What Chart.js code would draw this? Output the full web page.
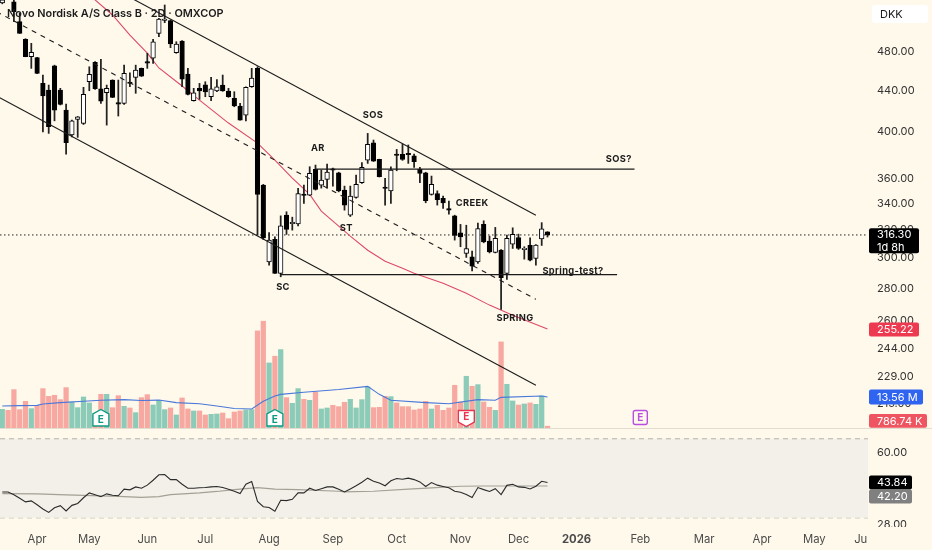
<!DOCTYPE html>
<html><head><meta charset="utf-8">
<style>
html,body{margin:0;padding:0;background:#fff9ec;overflow:hidden}
#a,#b{position:absolute;left:0}
#wa{position:absolute;left:0;top:0;width:932px;height:430px}
#wb{position:absolute;left:0;top:430px;width:932px;height:120px}
</style>
<script src="https://cdn.jsdelivr.net/npm/chart.js@4"></script>
</head><body>
<div id="wa"><canvas id="a"></canvas></div>
<div id="wb"><canvas id="b"></canvas></div>
<script>
const opens=[537,556,538.6,514.6,494.3,475,474,447,440.3,465.4,
440.3,420.6,397.3,411.8,408,448.7,469,441.6,437.6,450.4,
427.4,427,447.9,453.2,462.6,469.2,473.4,501.1,516,515.8,
479.4,492.4,456.6,429.6,442,445.6,433.6,439.3,445.3,439.3,
432,424.5,415.8,443.6,462.6,354.4,297.5,313.1,289.7,330.9,
324.5,324.3,346.9,346.4,367.4,354.4,359.1,367,364.5,350.4,
330.9,344.5,356.3,375.2,390.4,375.8,352.5,349.8,379.8,380.1,
380.4,378.9,367.4,364.5,347,347.6,343.8,336,330.4,317.9,
303.2,300.9,297.5,324,311.9,303.9,305.5,289.7,309.8,314.5,
305.9,308.9,299.8,313.5,318.5];
const highs=[552,560,545,524.5,495,489.8,474.5,455.6,445.3,466,
442,426.4,411,414.5,443,464.3,469.7,472.2,445.3,450.7,
450.4,466.1,458,466,463,478.8,494.3,518.6,534.6,516.6,
491.6,492.8,462.6,442,447,448.7,453.2,451,455.6,442,
438.6,427,443.5,462.6,464.3,355,318.1,315,330.4,333.5,
329.4,351.8,354.4,369.6,371,366.8,371.8,368.5,365,353.6,
353.6,362.6,373,398.8,392.8,376,359.9,369.6,384.5,389.2,
388.4,380.4,369,365,361.8,349.8,345.6,341.7,330.9,324,
323.4,304.8,324.9,326.7,315.5,321.8,306,316.2,321.5,316.9,
307.9,314.3,309.5,325.3,318.7];
const lows=[536,547,514.6,501,475,462.6,457,400.2,398.8,410.4,
425.5,380.4,395.7,395.2,407,439.6,441,427,406.4,432.7,
414.9,426,443.6,437,454,462.6,467.9,497.2,513.4,485,
478.8,443.6,435.3,429.3,431,433.6,429.6,438.6,439,433,
423.8,411,410.4,443,316.2,313,295.3,289.7,287.5,316.7,
319.8,322.8,339.9,346,350.4,352,352,353.6,349,334.7,
329.9,344,355.8,372.4,374,361,338.6,339.9,366.2,375,
372.4,369,356.3,340.4,346.4,338.6,336,331.7,312.6,307.9,
300.5,291.4,296.4,310.7,303.6,303.6,266.8,285.8,306.7,306,
299.3,298.1,295.2,308.8,314.8];
const closes=[541,549,526.5,501.1,475,479.9,457.3,434.3,404.9,420.6,
426,390.4,410.4,414.2,436,456.3,441.6,429.3,442,433,
426.4,457.3,446.9,460.8,454.5,468.2,491.6,517.8,517,489,
489,451.4,436,437.6,439.3,438.3,441.6,443.6,439.3,433.6,
424.5,411.1,443,452.5,347,314.2,312.6,289.7,323,320.3,
325.3,347.6,346.1,364,351,358.5,365.1,366.6,349.8,338.6,
345.6,355,369,388.9,374.4,361.2,351.7,366.8,379.2,375.8,
379.8,373.8,364,342,355,342.8,340.2,334.7,316,314.9,
306.7,294.6,321,311.4,304.3,313.8,286.9,313.8,316.7,306.7,
306.5,298.6,309,320.8,316.3];
const volumes=[8.16,7.73,16.77,8.02,11.66,8.46,9.91,17.2,13.85,14.29,
12.39,17.64,11.37,8.89,13.56,10.94,5.54,14.73,14.73,8.89,
14.14,9.48,8.75,6.71,13.27,14.58,10.06,12.1,8.02,8.75,
5.69,13.12,8.31,7.44,7.44,5.69,5.98,6.12,6.56,4.08,
7,7.44,7.87,8.02,42.43,46.66,28.43,31.35,34.26,
13.27,10.79,17.2,12.54,12.1,15.6,8.31,8.75,9.91,9.33,
11.23,12.54,8.75,12.39,17.93,8.89,9.04,13.85,13.71,10.94,
9.33,9.33,7.87,8.31,11.66,8.31,9.91,7.73,8.75,18.66,
11.37,22.6,18.23,18.95,11.37,9.04,7.73,37.62,19.1,11.81,
10.06,10.5,10.94,10.35,14,0.78674];
const rsi=[39.6,39.6,38.4,37,35.6,36,34.5,33,31.8,33.4,
34.2,32.3,34.3,35,37.2,39.2,38.4,37.6,38.8,38.2,
38,40.8,40.5,41.8,41.2,42.6,44.9,47.6,47.7,45.2,
45.2,43,41.2,41.2,41.4,41.5,41.8,42,41.5,40.8,
39.9,38.9,43,44.3,35.8,33.8,33.5,32.2,36.2,36.1,
36.6,39.2,39.2,41.2,40.2,41,41.8,41.8,40.8,39.6,
40.9,42.3,43.9,45.9,44.4,43.6,42.3,44.6,45.7,45.4,
45.9,45.2,44.1,42,43.8,42.6,42,41.4,39.9,39.5,
38.5,37.3,41.5,40.6,39.8,41,38.5,42.5,43,41.8,
41.6,40.9,42.1,44.4,43.84];
const maBars=[15,19,22,25,27,31,34,39,44,47,50,53,55,57,60,63,66,69,71,76,80,84,88,94];
const maValues=[547,522.5,499,478.9,463,444.3,430.3,408.3,390.1,375.2,360.1,347,334,326.5,315.5,305.5,297.9,293.2,289.9,283.3,276.9,269.5,263.4,255.22];
const volMaBars=[0,3,6,7,10,14,17,21,24,27,30,34,37,40,43,45,47,48,52,58,63,65,67,73,77,82,85,86,93,94];
const volMaValues=[9.6,9.77,9.9,10.5,11.1,11.7,12.1,12.4,12,12.2,11.1,10.6,9.6,8.5,8.3,11.7,14,14.7,15.6,16.8,18.2,14.7,12.1,11.1,10.6,12.4,12.1,13.4,14,13.56];
const rsiMaBars=[0,6,11,17,20,24,27,29,34,37,40,44,47,51,58,59,64,70,74,79,83,94];
const rsiMaValues=[38.9,38.8,38.4,38,37.8,37.4,37.7,38.5,39.2,39.8,40.6,41.5,40.8,40.6,39.9,39.6,39.9,40.8,41.4,42.1,42.2,42.2];
const upperChannelBars=[0,92], upperChannelPrices=[636,330.9];
const midChannelBars=[-1,92], midChannelPrices=[526.5,273.1];
const lowerChannelBars=[-1,92], lowerChannelPrices=[434.3,224.5];
const resistanceBars=[54,109], resistancePrice=367.6;
const supportBars=[48,106], supportPrice=288.9;
const noteTexts=['SOS','AR','ST','SC','SOS?','CREEK','Spring-test?','SPRING'];
const noteBars=[63.9,54.4,59.3,48.4,106.3,81,98.4,88.4];
const notePrices=[415.8,385.7,321.3,280.7,376,340.2,291.2,261.6];
const priceTicks=[480,440,400,360,340,320,300,280,260,244,229,215];
const rsiTicks=[60,28];
const rsiBands=[70,50,30];
const monthBars=[6,15,25,35,46,57,68,79,89,99,110,121,131,140,148];
const monthLabels=['Apr','May','Jun','Jul','Aug','Sep','Oct','Nov','Dec','2026','Feb','Mar','Apr','May','Ju'];
const earningsBars=[17,47,80,110];
const earningsKinds=['beat','beat','miss','next'];
const title='Novo Nordisk A/S Class B · 2D · OMXCOP';
const currency='DKK';
const countdown='1d 8h';

const BG='#fff9ec', INK='#1b1b1b', RED='#dd4a66', BLUE='#4a78d8';
const UI='Inter, "Noto Sans", sans-serif';
const bars=opens.map((_,i)=>i);
const pts=(xs,ys)=>xs.map((x,i)=>({x,y:ys[i]}));
const xMin=-0.397,xMax=149.26;
function noPad(s){s.paddingTop=0;s.paddingBottom=0;s.paddingLeft=0;s.paddingRight=0;}
function rightAxis(s){s.width=64;noPad(s);}
function pill(c,x,y,w,h,bg,lines,fs){
  c.save();c.fillStyle=bg;c.beginPath();c.roundRect(x,y,w,h,2);c.fill();
  c.fillStyle='#fff';c.textAlign='left';c.textBaseline='middle';c.font=`${fs||11}px ${UI}`;
  const lh=h/lines.length;
  lines.forEach((t,i)=>c.fillText(t,x+8,y+lh*(i+.5)+.5));
  c.restore();
}
function badge(c,cx,kind,bottom){
  const col=kind==='beat'?'#0f9a84':kind==='miss'?'#e8344e':'#b84fe0';
  c.save();c.beginPath();
  if(kind==='beat'){c.moveTo(cx,bottom-18.5);c.lineTo(cx+8,bottom-14);c.lineTo(cx+8,bottom-2);c.lineTo(cx-8,bottom-2);c.lineTo(cx-8,bottom-14);}
  else if(kind==='miss'){c.moveTo(cx-8,bottom-17.5);c.lineTo(cx+8,bottom-17.5);c.lineTo(cx+8,bottom-6);c.lineTo(cx,bottom-1.5);c.lineTo(cx-8,bottom-6);}
  else{c.roundRect(cx-7,bottom-17.5,14,14,2);}
  c.closePath();c.fillStyle=kind==='next'?BG:'#fff';c.fill();c.lineWidth=1.4;c.strokeStyle=col;c.stroke();
  c.fillStyle=col;c.font=`700 10px ${UI}`;c.textAlign='center';c.textBaseline='middle';
  c.fillText('E',cx,bottom-(kind==='beat'?8:kind==='miss'?11:10.5));
  c.restore();
}
const paneA={id:'paneA',afterDraw(ch){
  const c=ch.ctx,x=ch.scales.x,y=ch.scales.y,v=ch.scales.vol,b=ch.chartArea.bottom;
  c.save();
  c.letterSpacing='0.35px';
  noteTexts.forEach((t,i)=>{c.fillStyle=INK;c.font=`700 9.3px ${UI}`;c.textAlign='center';c.textBaseline='middle';
    c.fillText(t,x.getPixelForValue(noteBars[i]),y.getPixelForValue(notePrices[i]));});
  c.letterSpacing='0px';
  earningsBars.forEach((e,i)=>badge(c,x.getPixelForValue(e),earningsKinds[i],b));
  c.strokeStyle='#e2ddd0';c.lineWidth=1;c.beginPath();c.moveTo(0,428.5);c.lineTo(932,428.5);c.stroke();
  c.fillStyle=INK;c.font=`600 10.9px ${UI}`;c.textAlign='left';c.textBaseline='middle';c.fillText(title,7,13.5);
  c.fillStyle='#fff';c.beginPath();c.roundRect(872,5,56,18,3);c.fill();
  c.fillStyle=INK;c.font=`11px ${UI}`;c.fillText(currency,880,14.5);
  const last=closes.length-1;
  const yc=y.getPixelForValue(closes[last]);
  pill(c,869,yc-6.7,50,25,'#000',[closes[last].toFixed(2),countdown],11);
  pill(c,869,y.getPixelForValue(maValues[maValues.length-1])-6.5,50,14,'#ee3a50',[maValues[maValues.length-1].toFixed(2)],11);
  const m=volMaValues[volMaValues.length-1];
  pill(c,869,v.getPixelForValue(m)-7.5,54,15,'#2e64f0',[m.toFixed(2)+' M'],11);
  pill(c,869,414,58,13.7,'#ee5560',[(volumes[last]*1000).toFixed(2)+' K'],11);
  c.restore();
}};
const paneB={id:'paneB',afterDraw(ch){
  const c=ch.ctx,y=ch.scales.y,b=ch.chartArea.bottom;
  c.save();c.fillStyle=BG;c.fillRect(869,b,63,20);
  const last=rsi[rsi.length-1],ma=rsiMaValues[rsiMaValues.length-1];
  const py=y.getPixelForValue(last);
  pill(c,869,py-7,43,14,'#000',[last.toFixed(2)],11);
  pill(c,869,py+7,43,14,'#808080',[ma.toFixed(2)],11);
  c.restore();
}};
const lineDs=(label,data,color,width,order,extra)=>Object.assign({type:'line',label,data,borderColor:color,borderWidth:width,pointRadius:0,tension:0,order,fill:false},extra||{});

new Chart(document.getElementById('a'),{
  type:'bar',
  data:{datasets:[
    lineDs('Upper channel',pts(upperChannelBars,upperChannelPrices),INK,1.1,1),
    lineDs('Mid channel',pts(midChannelBars,midChannelPrices),INK,1.1,1,{borderDash:[5,5]}),
    lineDs('Lower channel',pts(lowerChannelBars,lowerChannelPrices),INK,1.1,1),
    lineDs('Resistance',pts(resistanceBars,resistanceBars.map(()=>resistancePrice)),INK,1.1,1),
    lineDs('Support',pts(supportBars,supportBars.map(()=>supportPrice)),INK,1.1,1),
    {label:'Body',data:bars.map(i=>({x:i,y:[opens[i],closes[i]]})),grouped:false,barThickness:4.6,minBarLength:1.4,
     backgroundColor:bars.map(i=>closes[i]>=opens[i]?'#fff':'#000'),borderColor:'#000',borderWidth:1,borderSkipped:false,order:2},
    {label:'Wick',data:bars.map(i=>({x:i,y:[lows[i],highs[i]]})),grouped:false,barThickness:1.1,backgroundColor:'#222',order:3},
    lineDs('MA',pts(maBars,maValues),RED,1.1,4),
    lineDs('Volume MA',pts(volMaBars,volMaValues),BLUE,1.1,5,{yAxisID:'vol'}),
    {label:'Volume',data:bars.map(i=>({x:i,y:volumes[i]})),yAxisID:'vol',grouped:false,barThickness:4.6,
     backgroundColor:bars.map(i=>closes[i]>=opens[i]?'#8ccbb8':'#f7a9a1'),order:6},
    lineDs('Last price',pts([xMin,xMax],[closes[closes.length-1],closes[closes.length-1]]),'#222',1,7,{borderDash:[1.5,2.5]})
  ]},
  options:{responsive:true,maintainAspectRatio:false,animation:false,events:[],
    layout:{padding:{bottom:2,top:0,left:0,right:0}},
    plugins:{legend:{display:false},tooltip:{enabled:false},title:{display:false}},
    scales:{
      x:{type:'linear',min:xMin,max:xMax,offset:false,display:false,grid:{display:false}},
      y:{type:'logarithmic',position:'right',min:203.6,max:540.7,
        afterBuildTicks:s=>{s.ticks=priceTicks.map(value=>({value}));},afterFit:rightAxis,
        grid:{display:false,drawTicks:false},border:{display:false},
        ticks:{autoSkip:false,padding:9,color:'#333',font:{family:UI,size:11},callback:v=>Number(v).toFixed(2)}},
      vol:{type:'linear',min:0,max:187,display:false,position:'right',grid:{display:false}}
    }},
  plugins:[paneA]
});

new Chart(document.getElementById('b'),{
  type:'line',
  data:{datasets:[
    lineDs('RSI',pts(bars,rsi),'#2a2a2a',1.1,1),
    lineDs('RSI MA',pts(rsiMaBars,rsiMaValues),'#a3a095',1.2,2),
    ...rsiBands.map((b,i)=>lineDs('Band '+b,pts([xMin,xMax],[b,b]),'#b5b2a8',1,3,Object.assign({borderDash:[5,4]},
      i===0?{fill:{target:{value:rsiBands[2]}},backgroundColor:'#f2f0e8'}:{})))
  ]},
  options:{responsive:true,maintainAspectRatio:false,animation:false,events:[],
    layout:{padding:0},
    plugins:{legend:{display:false},tooltip:{enabled:false},title:{display:false}},
    scales:{
      x:{type:'linear',min:xMin,max:xMax,offset:false,position:'bottom',grid:{display:false,drawTicks:false},border:{display:false},
        afterBuildTicks:s=>{s.ticks=monthBars.map(value=>({value}));},
        afterFit:s=>{s.height=23;noPad(s);},
        ticks:{autoSkip:false,maxRotation:0,minRotation:0,padding:6,color:'#4a4a4a',
          font:c=>({family:UI,size:11.3,weight:(c.tick&&monthLabels[monthBars.indexOf(c.tick.value)]==='2026')?'700':'400'}),
          callback:v=>monthLabels[monthBars.indexOf(v)]}},
      y:{type:'logarithmic',position:'right',min:27.2,max:76.9,
        afterBuildTicks:s=>{s.ticks=rsiTicks.map(value=>({value}));},afterFit:rightAxis,
        grid:{display:false,drawTicks:false},border:{display:false},
        ticks:{autoSkip:false,padding:9,color:'#333',font:{family:UI,size:11},callback:v=>Number(v).toFixed(2)}}
    }},
  plugins:[paneB]
});
</script>
</body></html>
